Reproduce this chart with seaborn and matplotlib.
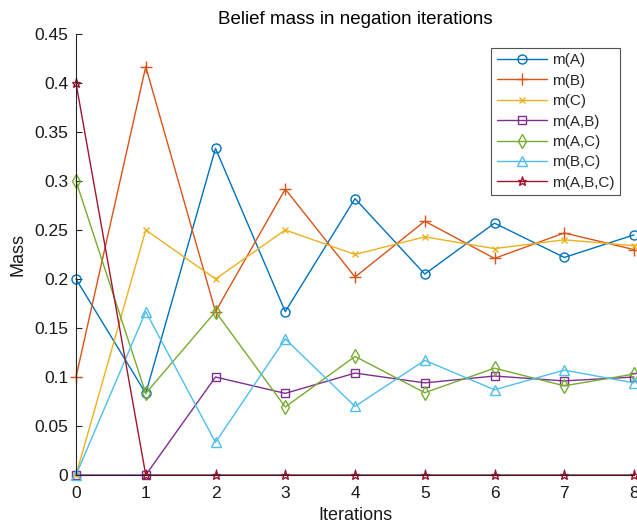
import numpy as np
import pandas as pd
import matplotlib
matplotlib.use("Agg")
import matplotlib.pyplot as plt
import seaborn as sns

iterations = [0, 1, 2, 3, 4, 5, 6, 7, 8]
m_A   = [0.200, 0.0833, 0.3333, 0.1667, 0.282, 0.205, 0.257, 0.222, 0.245]
m_B   = [0.100, 0.4167, 0.1667, 0.2917, 0.202, 0.259, 0.221, 0.247, 0.230]
m_C   = [0.000, 0.2500, 0.2000, 0.2500, 0.225, 0.243, 0.231, 0.240, 0.234]
m_AB  = [0.000, 0.0000, 0.1000, 0.0833, 0.104, 0.094, 0.101, 0.096, 0.100]
m_AC  = [0.300, 0.0833, 0.1667, 0.0694, 0.121, 0.084, 0.109, 0.091, 0.103]
m_BC  = [0.000, 0.1667, 0.0333, 0.1389, 0.070, 0.117, 0.087, 0.107, 0.094]
m_ABC = [0.400, 0.0000, 0.0000, 0.0000, 0.000, 0.000, 0.000, 0.000, 0.000]

labels = ["m(A)", "m(B)", "m(C)", "m(A,B)", "m(A,C)", "m(B,C)", "m(A,B,C)"]
series = [m_A, m_B, m_C, m_AB, m_AC, m_BC, m_ABC]

colors = ["#0072BD", "#D95319", "#EDB120", "#7E2F8E", "#77AC30", "#4DBEEE", "#A2142F"]
markers = ["o", "+", "x", "s", "d", "^", "*"]
msizes = [6.5, 8, 5, 5.5, 7.5, 7, 6.5]

sns.set_style("ticks")
plt.rcParams["font.family"] = ["Liberation Sans", "DejaVu Sans"]

fig = plt.figure(figsize=(6.37, 5.24), dpi=100)
ax = fig.add_axes([76/637, 49/524, (634-76)/637, (475-34)/524])

for lab, vals, c, mk, ms in zip(labels, series, colors, markers, msizes):
    sns.lineplot(x=iterations, y=vals, ax=ax, color=c, marker=mk, label=lab,
                 markersize=ms, markerfacecolor="none", markeredgecolor=c,
                 markeredgewidth=1.0, linewidth=1.0, clip_on=False)

ax.set_xlim(0, 8)
ax.set_ylim(0, 0.45)
ax.set_xticks(range(0, 9))
ax.set_yticks(np.arange(0, 0.451, 0.05))
ax.set_yticklabels(["0", "0.05", "0.1", "0.15", "0.2", "0.25", "0.3", "0.35", "0.4", "0.45"])
ax.tick_params(direction="in", length=4, labelsize=12.5, colors="#262626", width=0.8,
               labelcolor="#1a1a1a")
ax.tick_params(axis="x", pad=8)
ax.tick_params(axis="y", pad=5.5)
for s in ["top", "right"]:
    ax.spines[s].set_visible(False)
for s in ["left", "bottom"]:
    ax.spines[s].set_color("#262626")
    ax.spines[s].set_linewidth(0.8)

ax.set_title("Belief mass in negation iterations", fontsize=13.5, color="#000000", pad=7)
ax.set_xlabel("Iterations", fontsize=13, labelpad=4.5, color="#1a1a1a")
ax.set_ylabel("Mass", fontsize=13, labelpad=6, color="#1a1a1a")

leg = ax.legend(loc="upper right", bbox_to_anchor=(620/637, 1 - 48/524),
                bbox_transform=fig.transFigure, fontsize=11, frameon=True,
                fancybox=False, edgecolor="#262626", handlelength=3.3,
                borderpad=0.35, labelspacing=0.42, handletextpad=0.33,
                borderaxespad=0)
leg.get_frame().set_linewidth(0.8)

fig.savefig("out.png", dpi=100)
